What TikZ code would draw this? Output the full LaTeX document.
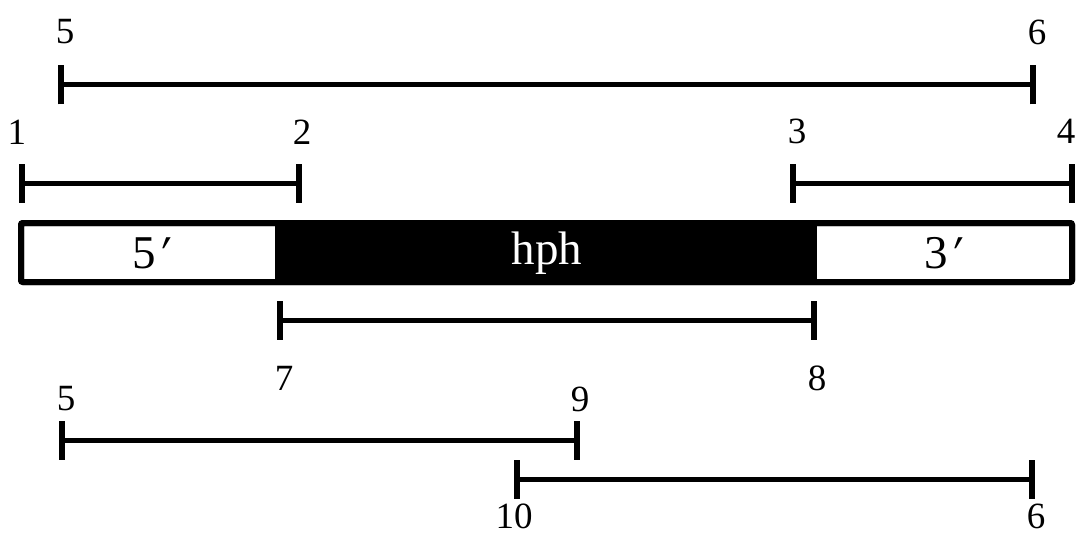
\documentclass[tikz,border=0pt]{standalone}
\usepackage{fontspec}
\setmainfont{Liberation Serif}
\newfontfamily\primefont[FakeSlant=0.25]{Liberation Serif}
\newcommand{\primemark}{{\primefont ′}}
\begin{document}
\begin{tikzpicture}[x=1pt,y=-1pt,
  seg/.style={line width=5pt},
  tickmark/.style={line width=6pt},
  num/.style={inner sep=0pt,font=\fontsize{37}{42}\selectfont},
  boxlabel/.style={inner sep=0pt,font=\fontsize{47}{52}\selectfont}]
\useasboundingbox (0,0) rectangle (1077,535);

% interval end points
\coordinate (p5a) at (61,85);   \coordinate (p6a) at (1033,85);
\coordinate (p1)  at (22,183);  \coordinate (p2)  at (299,183);
\coordinate (p3)  at (793,183); \coordinate (p4)  at (1072,183);
\coordinate (p7)  at (280,320); \coordinate (p8)  at (814,320);
\coordinate (p5b) at (62,440);  \coordinate (p9)  at (577,440);
\coordinate (p10) at (517,479); \coordinate (p6b) at (1032,479);

% intervals with end ticks
\foreach \a/\b in {p5a/p6a,p1/p2,p3/p4,p7/p8,p5b/p9,p10/p6b}{
  \draw[seg] (\a) -- (\b);
  \draw[tickmark] ([yshift=-19.5pt]\a) -- ([yshift=19.5pt]\a);
  \draw[tickmark] ([yshift=-19.5pt]\b) -- ([yshift=19.5pt]\b);
}

% construct: 5' flank, hph cassette, 3' flank
\draw[line width=6pt,rounded corners=2pt,fill=white] (21,223) rectangle (1072,282);
\fill[black] (275,223) rectangle (817,282);
\draw[line width=6pt,rounded corners=2pt] (21,223) rectangle (1072,282);
\node[boxlabel] (l5) at (149,253) {5\primemark};
\node[boxlabel,text=white] (lh) at (547,253) {hph};
\node[boxlabel] (l3) at (941,253) {3\primemark};

% position labels
\node[num] (n5a) at (65,32)   {5};
\node[num] (n6a) at (1037,32) {6};
\node[num] (n1)  at (17,132)  {1};
\node[num] (n2)  at (302,132) {2};
\node[num] (n3)  at (797,131) {3};
\node[num] (n4)  at (1066,131) {4};
\node[num] (n7)  at (284,378) {7};
\node[num] (n8)  at (817,378) {8};
\node[num] (n5b) at (66,399)  {5};
\node[num] (n9)  at (580,399) {9};
\node[num] (n10) at (514,516) {10};
\node[num] (n6b) at (1036,516) {6};
\end{tikzpicture}
\end{document}
